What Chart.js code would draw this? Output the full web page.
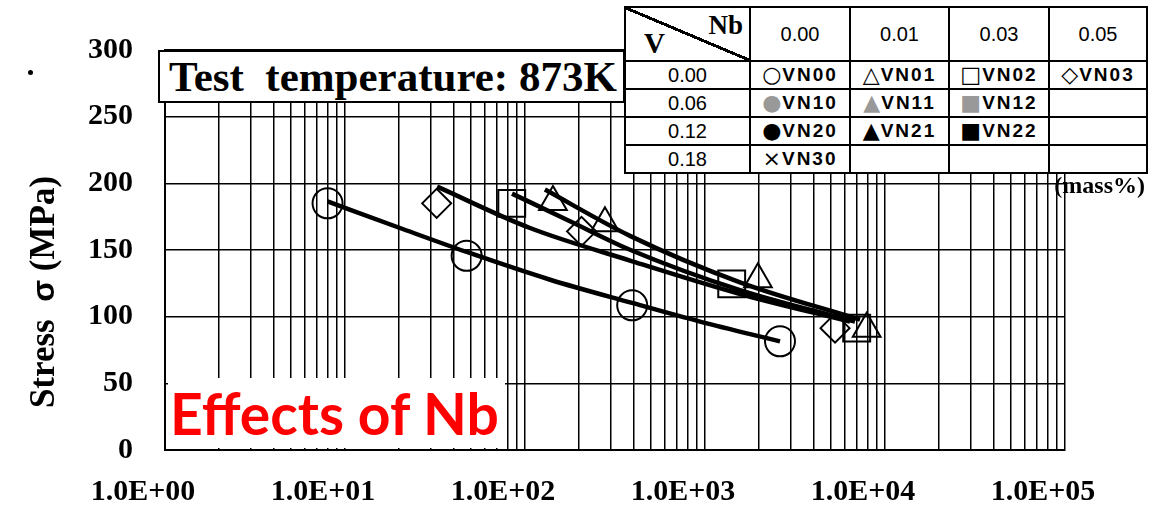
<!DOCTYPE html>
<html>
<head>
<meta charset="utf-8">
<script src="https://cdn.jsdelivr.net/npm/chart.js@4.4.1/dist/chart.umd.min.js"></script>
<style>
  html, body { margin: 0; padding: 0; background: #fff; }
  #wrap { position: relative; width: 1150px; height: 512px; overflow: hidden; background: #fff; }
  #c { position: absolute; left: 0; top: 0; }
  .serif { font-family: "Liberation Serif", "Times New Roman", serif; font-weight: bold; }
  #ytitle {
    position: absolute; left: 42px; top: 292px;
    transform: translate(-50%, -50%) rotate(-90deg);
    white-space: nowrap; font-size: 35px; color: #000; line-height: 1;
  }
  #ytitle .sig { font-family: "Liberation Sans", Arial, sans-serif; font-weight: bold; font-size: 32px; }
  #temp {
    position: absolute; left: 158px; top: 50px; width: 467px; height: 53px;
    box-sizing: border-box; border: 2px solid #000; background: #fff;
    font-size: 43px; line-height: 49px; padding-left: 9px; white-space: nowrap; color: #000;
  }
  #nb {
    position: absolute; left: 168px; top: 378px; width: 337px; height: 70px;
    background: #fff; color: #ff0000;
    font-family: Lato, "Open Sans", sans-serif; font-weight: 700; font-size: 57px;
    line-height: 70px; padding-left: 2px; box-sizing: border-box; white-space: nowrap;
  }
  #legend {
    position: absolute; left: 624px; top: 6px; width: 524px; height: 168px;
    border-collapse: collapse; table-layout: fixed; background: #fff;
    font-family: "Liberation Sans", Arial, sans-serif; font-size: 20px; color: #000;
  }
  #legend td { border: 2.5px solid #000; padding: 0; text-align: center; vertical-align: middle; line-height: 1; white-space: nowrap; overflow: hidden; }
  #legend tr.hdr td { height: 52px; }
  #legend tr.row td { height: 26px; }
  #legend .code { font-weight: bold; letter-spacing: 2px; font-size: 19px; }
  #legend .sym { font-family: "DejaVu Sans", sans-serif; font-size: 22px; margin-right: 1px; vertical-align: -1px; }
  #legend td.corner {
    position: relative;
    background: linear-gradient(to top right, transparent calc(50% - 1.5px), #000 calc(50% - 1.5px), #000 calc(50% + 1.5px), transparent calc(50% + 1.5px));
  }
  #legend td.corner .nbh { position: absolute; right: 6px; top: 4px; font-size: 27px; }
  #legend td.corner .vh { position: absolute; left: 18px; bottom: 2px; font-size: 29px; }
  #mass { position: absolute; right: 5px; top: 172px; font-size: 24px; color: #000; white-space: nowrap; }
  #dot { position: absolute; left: 28px; top: 70px; width: 5px; height: 5px; border-radius: 50%; background: #000; }
</style>
</head>
<body>
<div id="wrap">
  <canvas id="c" width="1150" height="512"></canvas>
  <div id="dot"></div>
  <div id="ytitle"><span class="serif">Stress</span>&nbsp;&nbsp;<span class="sig">σ</span> <span class="serif">(MPa)</span></div>
  <div id="temp" class="serif">Test&nbsp; temperature: 873K</div>
  <div id="nb">Effects of Nb</div>
  <table id="legend"></table>
  <div id="mass" class="serif">(mass%)</div>
</div>
<script>
// Rupture time (h) and stress (MPa) of each steel at 873 K
const vn00Time = [8.0, 47.4, 394, 2610];
const vn00Stress = [185, 145.6, 108.5, 81.5];
const vn01Time = [143, 278, 1968, 7910];
const vn01Stress = [186, 170, 128, 91];
const vn02Time = [84.4, 1407, 6963];
const vn02Stress = [185, 124.6, 91.4];
const vn03Time = [32.3, 206, 5277];
const vn03Stress = [185, 164, 91.4];

// Fitted creep-rupture curves
const vn00FitTime = [8.0, 20.2, 47, 138, 393, 938, 2610];
const vn00FitStress = [186.4, 166.5, 148.7, 127.7, 110.3, 96.3, 81.5];
const vn01FitTime = [129, 383, 1565, 7264];
const vn01FitStress = [195.3, 160.6, 125.8, 97.8];
const vn02FitTime = [84.7, 177.8, 383, 1565, 6813];
const vn02FitStress = [192.3, 171.6, 150.2, 119.9, 96.3];
const vn03FitTime = [32.5, 106.6, 383, 1565, 6393];
const vn03FitStress = [197.5, 166.5, 142.1, 117.0, 96.3];

// Axis tick labels
const timeTickLabels = ['1.0E+00', '1.0E+01', '1.0E+02', '1.0E+03', '1.0E+04', '1.0E+05'];
const stressTicks = [0, 50, 100, 150, 200, 250, 300];

// Composition key (mass%)
const nbLevels = ['0.00', '0.01', '0.03', '0.05'];
const vLevels = ['0.00', '0.06', '0.12', '0.18'];
const steelCodes = [
  ['VN00', 'VN01', 'VN02', 'VN03'],
  ['VN10', 'VN11', 'VN12', ''],
  ['VN20', 'VN21', 'VN22', ''],
  ['VN30', '', '', '']
];
const steelSymbols = [
  ['○', '△', '□', '◇'],
  ['●', '▲', '■', ''],
  ['●', '▲', '■', ''],
  ['×', '', '', '']
];
const symbolColors = ['#000', '#999', '#000', '#000'];

// build the composition key table
(function buildKey() {
  const tbl = document.getElementById('legend');
  const colW = [125, 100, 99, 100, 98];
  const cg = document.createElement('colgroup');
  colW.forEach(w => { const c = document.createElement('col'); c.style.width = w + 'px'; cg.appendChild(c); });
  tbl.appendChild(cg);
  const hr = document.createElement('tr');
  hr.className = 'hdr';
  const corner = document.createElement('td');
  corner.className = 'corner';
  corner.innerHTML = '<span class="nbh serif">Nb</span><span class="vh serif">V</span>';
  hr.appendChild(corner);
  nbLevels.forEach(n => { const td = document.createElement('td'); td.textContent = n; hr.appendChild(td); });
  tbl.appendChild(hr);
  vLevels.forEach((v, r) => {
    const tr = document.createElement('tr');
    tr.className = 'row';
    const th = document.createElement('td');
    th.textContent = v;
    tr.appendChild(th);
    steelCodes[r].forEach((code, k) => {
      const td = document.createElement('td');
      if (code) {
        const s = document.createElement('span');
        s.className = 'sym';
        s.style.color = symbolColors[r];
        s.textContent = steelSymbols[r][k];
        const t = document.createElement('span');
        t.className = 'code';
        t.textContent = code;
        td.appendChild(s);
        td.appendChild(t);
      }
      tr.appendChild(td);
    });
    tbl.appendChild(tr);
  });
})();

function pts(xs, ys) { return xs.map((x, i) => ({ x: x, y: ys[i] })); }

function fit(xs, ys) {
  return {
    data: pts(xs, ys), showLine: true, pointRadius: 0, borderColor: '#000',
    borderWidth: 4.5, cubicInterpolationMode: 'monotone', fill: false
  };
}
function marks(xs, ys, style, r) {
  return {
    data: pts(xs, ys), showLine: false, pointStyle: style, pointRadius: r,
    borderColor: '#000', backgroundColor: 'rgba(0,0,0,0)', pointBorderWidth: 2
  };
}

const tickFont = { family: 'Liberation Serif', size: 30, weight: 'bold' };

new Chart(document.getElementById('c'), {
  type: 'scatter',
  data: {
    datasets: [
      fit(vn00FitTime, vn00FitStress),
      fit(vn01FitTime, vn01FitStress),
      fit(vn02FitTime, vn02FitStress),
      fit(vn03FitTime, vn03FitStress),
      marks(vn00Time, vn00Stress, 'circle', 15),
      marks(vn01Time, vn01Stress, 'triangle', 16),
      marks(vn02Time, vn02Stress, 'rect', 19),
      marks(vn03Time, vn03Stress, 'rectRot', 14.5)
    ]
  },
  options: {
    responsive: false,
    animation: false,
    events: [],
    layout: { padding: { top: 44, right: 85, left: 0, bottom: 0 } },
    plugins: { legend: { display: false }, tooltip: { enabled: false } },
    scales: {
      x: {
        type: 'logarithmic',
        min: 1, max: 1e5,
        afterFit(s) { s.height = 62; },
        afterBuildTicks(s) {
          const t = [];
          for (let e = 0; e < 5; e++) {
            for (let m = 1; m < 10; m++) t.push({ value: m * Math.pow(10, e) });
          }
          t.push({ value: 1e5 });
          s.ticks = t;
        },
        ticks: {
          autoSkip: false, maxRotation: 0, minRotation: 0,
          padding: 24, labelOffset: -22, color: '#000', font: tickFont,
          callback(v) {
            const e = Math.log10(v);
            const k = Math.round(e);
            return Math.abs(e - k) < 1e-9 ? timeTickLabels[k] : '';
          }
        },
        grid: { color: '#000', lineWidth: 1.5, drawTicks: false },
        border: { color: '#000', width: 2 }
      },
      y: {
        min: stressTicks[0], max: stressTicks[stressTicks.length - 1],
        afterFit(s) { s.width = 165; },
        ticks: { stepSize: 50, padding: 32, color: '#000', font: tickFont },
        grid: { color: '#000', lineWidth: 1.5, drawTicks: false },
        border: { color: '#000', width: 2 }
      }
    }
  }
});
</script>
</body>
</html>
